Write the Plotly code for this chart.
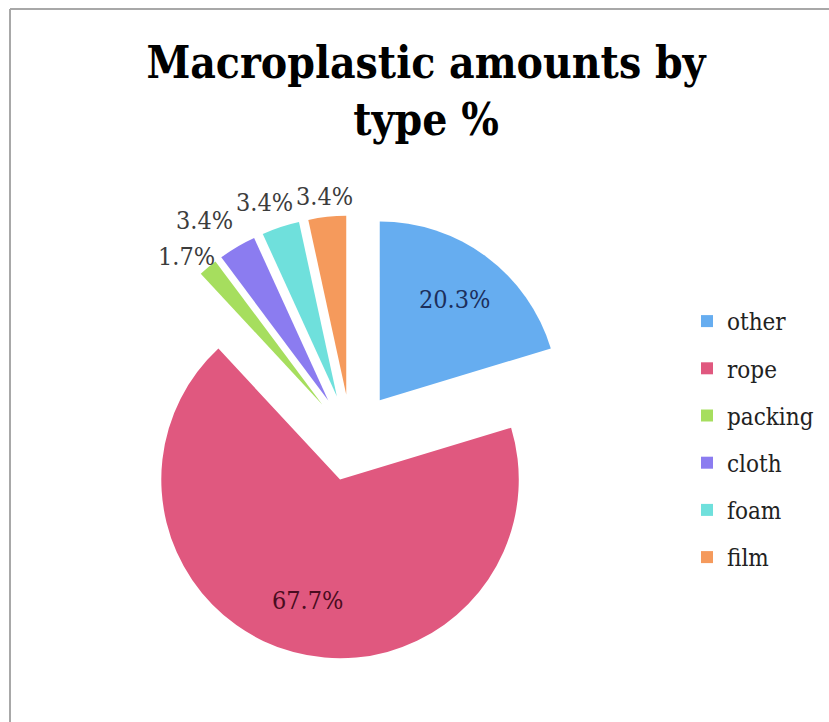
import math
import plotly.graph_objects as go

labels = ["other", "rope", "packing", "cloth", "foam", "film"]
values = [20.3, 67.7, 1.7, 3.4, 3.4, 3.4]
colors = ["#66adf0", "#e0587f", "#a6de5e", "#8b7cf0", "#6fe0dc", "#f59a5c"]
label_colors = ["#1c2f5c", "#4a0c20", "#3c3c3c", "#3c3c3c", "#3c3c3c", "#3c3c3c"]
label_inside = [True, True, False, False, False, False]
pulls = [0.27, 0.235, 0.25, 0.25, 0.25, 0.25]

W, H = 829, 722
# pie domain in pixels (left, right, top, bottom)
DX0, DX1, DY0, DY1 = 124, 578, 212, 666
LABEL_SIZE = 25
FONT = "DejaVu Serif Condensed, DejaVu Serif, serif"

fig = go.Figure()
fig.add_trace(go.Pie(
    labels=labels,
    values=values,
    sort=False,
    direction="clockwise",
    rotation=0,
    pull=pulls,
    marker=dict(colors=colors, line=dict(width=0)),
    textinfo="none",
    hoverinfo="label+value",
    domain=dict(x=[DX0 / W, DX1 / W], y=[(H - DY1) / H, (H - DY0) / H]),
    showlegend=True,
))
# invisible helper entry so each slice gets its own legend group (for spacing)
fig.add_trace(go.Scatter(
    x=[None], y=[None], mode="markers",
    marker=dict(color="rgba(0,0,0,0)", size=1, line=dict(width=0)),
    name="", legendgroup="zz", showlegend=True, hoverinfo="skip",
))

# ---- data labels, placed with the same geometry plotly uses for the pie ----
cx, cy = (DX0 + DX1) / 2, (DY0 + DY1) / 2
r = min(DX1 - DX0, DY1 - DY0) / 2 / (1 + max(pulls))
total = sum(values)
CHAR_W = {".": 0.318, "%": 0.948}


def text_w(t):
    return sum(CHAR_W.get(c, 0.636) for c in t) * LABEL_SIZE * 0.9


placed = []  # boxes of outside labels: [x0, x1, y0, y1]
items = []
cum = 0.0
for lab, v, p, col, inside in zip(labels, values, pulls, label_colors, label_inside):
    mid = (cum + v / 2) / total * 2 * math.pi
    cum += v
    dx, dy = math.sin(mid), -math.cos(mid)
    vx, vy = cx + p * r * dx, cy + p * r * dy
    txt = f"{v:.1f}%"
    w, h = text_w(txt), LABEL_SIZE * 1.3
    if inside:
        d = 0.7 * r
    else:
        d = r + 6 + (w / 2) * abs(dx) + (0.9 * LABEL_SIZE / 2) * abs(dy)
    items.append([txt, vx + d * dx, vy + d * dy, w, h, col, inside, dx])

# resolve overlaps of outside labels (last slice first), minimal displacement
GAP = 3
for it in reversed(items):
    txt, px, py, w, h, col, inside, dx = it
    if inside:
        continue
    for _ in range(20):
        box = [px - w / 2, px + w / 2, py - h / 2, py + h / 2]
        hit = None
        for b in placed:
            if box[0] < b[1] + GAP and box[1] > b[0] - GAP and box[2] < b[3] + GAP and box[3] > b[2] - GAP:
                hit = b
                break
        if hit is None:
            break
        if dx < 0:
            mx = (hit[0] - GAP) - box[1]
        else:
            mx = (hit[1] + GAP) - box[0]
        if py >= (hit[2] + hit[3]) / 2:
            my = (hit[3] + GAP) - box[2]
        else:
            my = (hit[2] - GAP) - box[3]
        if abs(mx) <= abs(my):
            px += mx
        else:
            py += my
    it[1], it[2] = px, py
    placed.append([px - w / 2, px + w / 2, py - h / 2, py + h / 2])

annotations = [
    dict(x=px / W, y=1 - py / H, xref="paper", yref="paper",
         text=txt, showarrow=False, xanchor="center", yanchor="middle",
         font=dict(family=FONT, size=LABEL_SIZE, color=col))
    for txt, px, py, w, h, col, inside, dx in items
]

fig.update_layout(
    width=W, height=H,
    margin=dict(l=0, r=0, t=0, b=0, autoexpand=False),
    paper_bgcolor="white",
    plot_bgcolor="white",
    xaxis=dict(visible=False),
    yaxis=dict(visible=False),
    title=dict(
        text="<b>Macroplastic amounts by<br>type %</b>",
        font=dict(family=FONT, size=44, color="#000000"),
        x=426 / W, xanchor="center",
        y=1 - 78 / H, yanchor="top",
    ),
    legend=dict(
        x=687 / W, xanchor="left",
        y=1 - 299 / H, yanchor="top",
        font=dict(family=FONT, size=24, color="#222222"),
        traceorder="grouped",
        tracegroupgap=13,
        bgcolor="rgba(0,0,0,0)",
    ),
    annotations=annotations,
    shapes=[
        dict(type="line", xref="paper", yref="paper",
             x0=10 / W, x1=10 / W, y0=0, y1=1 - 9 / H,
             line=dict(color="#a8a8a8", width=2)),
        dict(type="line", xref="paper", yref="paper",
             x0=10 / W, x1=1, y0=1 - 9 / H, y1=1 - 9 / H,
             line=dict(color="#a8a8a8", width=2)),
    ],
)

fig.write_html("out.html", config={"displayModeBar": False},
               post_script="document.body.style.margin='0';")
